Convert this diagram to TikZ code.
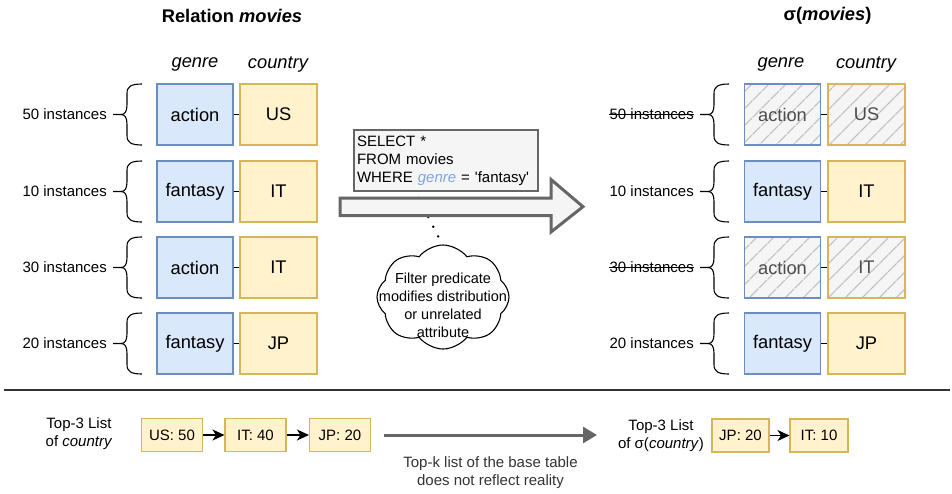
\documentclass[tikz,border=0pt]{standalone}
\usepackage{fontspec}
\setmainfont{Liberation Sans}
\usetikzlibrary{arrows.meta,shapes.symbols,patterns.meta,calc}
\definecolor{blueF}{HTML}{DAE8FC}
\definecolor{blueS}{HTML}{6C8EBF}
\definecolor{yelF}{HTML}{FFF2CC}
\definecolor{yelS}{HTML}{D6B656}
\definecolor{greyF}{HTML}{F5F5F5}
\definecolor{greyS}{HTML}{666666}
\definecolor{hatchC}{HTML}{BEBEBE}
\definecolor{sqlBlue}{HTML}{7EA6E0}
\definecolor{dimText}{HTML}{4D4D4D}
\definecolor{noteText}{HTML}{333333}
\definecolor{ruleC}{HTML}{333333}

% curly brace with a short lead-in stroke; #1 = left end x, #2 = centre y
\newcommand\instbrace[2]{%
  \draw[line width=1.1pt]
    (#1,#2) -- ({#1+8},#2)
    .. controls ({#1+12},#2) and ({#1+14},{#2-3}) .. ({#1+14},{#2-10})
    -- ({#1+14},{#2-21})
    .. controls ({#1+14},{#2-28}) and ({#1+18},{#2-30.5}) .. ({#1+29},{#2-30.5});
  \draw[line width=1.1pt]
    ({#1+8},#2)
    .. controls ({#1+12},#2) and ({#1+14},{#2+3}) .. ({#1+14},{#2+10})
    -- ({#1+14},{#2+21})
    .. controls ({#1+14},{#2+28}) and ({#1+18},{#2+30.5}) .. ({#1+29},{#2+30.5});
}

\begin{document}
\begin{tikzpicture}[x=1pt,y=-1pt,
  big/.style={font=\fontsize{18.3}{21}\selectfont},
  small/.style={font=\fontsize{15}{18}\selectfont},
  cell/.style={rectangle, line width=1.1pt, minimum height=61pt, inner sep=0pt, big},
  genrecell/.style={cell, fill=blueF, draw=blueS, minimum width=76pt},
  countrycell/.style={cell, fill=yelF, draw=yelS, minimum width=77pt},
  hatched/.style={preaction={fill=greyF},
    pattern={Lines[angle=45,distance=13pt,line width=1.3pt]}, pattern color=hatchC,
    text=dimText},
  dgenrecell/.style={cell, hatched, draw=blueS, minimum width=76pt},
  dcountrycell/.style={cell, hatched, draw=yelS, minimum width=77pt},
  link/.style={line width=1.1pt},
  count/.style={small, anchor=east, inner sep=0pt},
  header/.style={font=\fontsize{18.3}{21}\selectfont\itshape},
  topk/.style={rectangle, small, fill=yelF, draw=yelS, line width=1.1pt,
    minimum height=33pt, inner sep=0pt},
  step arrow/.style={line width=1.1pt, -{Stealth[length=12pt,width=11pt,inset=3.5pt]}},
]
\useasboundingbox (0,0) rectangle (952,493);

% ---------- base relation ----------
\node[font=\fontsize{18.3}{21}\selectfont\bfseries] (ltitle) at (232,16) {Relation \textit{movies}};
\node[header] (lgh) at (195,64) {genre};
\node[header] (lch) at (278,64) {country};

\foreach \yy/\n/\g/\c [count=\i] in
  {114.5/50/action/US, 191.5/10/fantasy/IT, 267.5/30/action/IT, 343.5/20/fantasy/JP}{
  \node[genrecell] (lg\i) at (195,\yy) {\g};
  \node[countrycell] (lc\i) at (278.5,\yy) {\c};
  \draw[link] (lg\i) -- (lc\i);
  \node[count] (ln\i) at (107,\yy) {\n\ instances};
  \instbrace{113}{\yy}
}

% ---------- query ----------
\coordinate (cloudtop) at (443,246);
\coordinate (sqlfoot) at (415,191);
\draw[line width=2.6pt, line cap=round, dash pattern=on 0pt off 10.8pt] (cloudtop) -- (sqlfoot);

\draw[line width=3pt, draw=greyS, fill=greyF, line join=miter]
  (340,198) -- (551,198) -- (551,179.5) -- (583,206.7) -- (551,232) -- (551,215.5)
  -- (340,215.5) -- cycle;

\node[rectangle, fill=greyF, draw=greyS, line width=1.1pt,
      minimum width=184pt, minimum height=61pt, text width=178pt, align=left,
      inner sep=3pt, font=\fontsize{15}{18}\selectfont] (sql) at (446,160.5)
  {SELECT *\\FROM movies\\WHERE \textcolor{sqlBlue}{\textit{genre}} = \textquotesingle fantasy\textquotesingle};

\node[cloud, cloud puffs=8, cloud puff arc=105, draw, fill=white, line width=1.1pt,
      minimum width=132pt, minimum height=104pt, inner sep=0pt, aspect=1.3] (note) at (443,297) {};
\node[align=center, inner sep=0pt, font=\fontsize{14.5}{18}\selectfont] (notetext) at (443,305)
  {Filter predicate\\modifies distribution\\or unrelated\\attribute};

% ---------- filtered relation ----------
\node[font=\fontsize{18.3}{21}\selectfont\bfseries] (rtitle) at (827.5,16) {σ(\textit{movies})};
\node[header] (rgh) at (781,64) {genre};
\node[header] (rch) at (866,64) {country};

\node[dgenrecell]   (rg1) at (782.5,114.5) {action};
\node[dcountrycell] (rc1) at (866.5,114.5) {US};
\node[genrecell]    (rg2) at (782.5,191.5) {fantasy};
\node[countrycell]  (rc2) at (866.5,191.5) {IT};
\node[dgenrecell]   (rg3) at (782.5,267.5) {action};
\node[dcountrycell] (rc3) at (866.5,267.5) {IT};
\node[genrecell]    (rg4) at (782.5,343.5) {fantasy};
\node[countrycell]  (rc4) at (866.5,343.5) {JP};
\foreach \i in {1,...,4}{ \draw[link] (rg\i) -- (rc\i); }

\node[count] (rn1) at (694,114.5) {50 instances};
\node[count] (rn2) at (694,191.5) {10 instances};
\node[count] (rn3) at (694,267.5) {30 instances};
\node[count] (rn4) at (694,343.5) {20 instances};
\draw[line width=1pt] (rn1.west) -- (rn1.east);
\draw[line width=1pt] (rn3.west) -- (rn3.east);
\foreach \yy in {114.5,191.5,267.5,343.5}{ \instbrace{700}{\yy} }

% ---------- separator ----------
\draw[line width=1.6pt, ruleC] (4,390) -- (950,390);

% ---------- top-k lists ----------
\node[small, align=center, inner sep=0pt] (ltop) at (79,434) {Top-3 List\\of \textit{country}};
\node[topk, minimum width=61pt] (k1) at (172,435) {US: 50};
\node[topk, minimum width=61pt] (k2) at (255.5,435) {IT: 40};
\node[topk, minimum width=61pt] (k3) at (340,435) {JP: 20};
\draw[step arrow] (k1) -- (k2);
\draw[step arrow] (k2) -- (k3);

\coordinate (gapstart) at (384,435);
\coordinate (gapend) at (597,435);
\draw[line width=3pt, greyS, -{Triangle[length=14pt,width=16pt]}] (gapstart) -- (gapend);
\node[small, align=center, inner sep=0pt, text=noteText] (gaptext) at (490.5,473)
  {Top-k list of the base table\\does not reflect reality};

\node[small, align=center, inner sep=0pt] (rtop) at (661,436) {Top-3 List\\of σ(\textit{country})};
\node[topk, minimum width=57pt] (f1) at (740.5,435.5) {JP: 20};
\node[topk, minimum width=58pt] (f2) at (819,435.5) {IT: 10};
\draw[step arrow] (f1) -- (f2);

\end{tikzpicture}
\end{document}
